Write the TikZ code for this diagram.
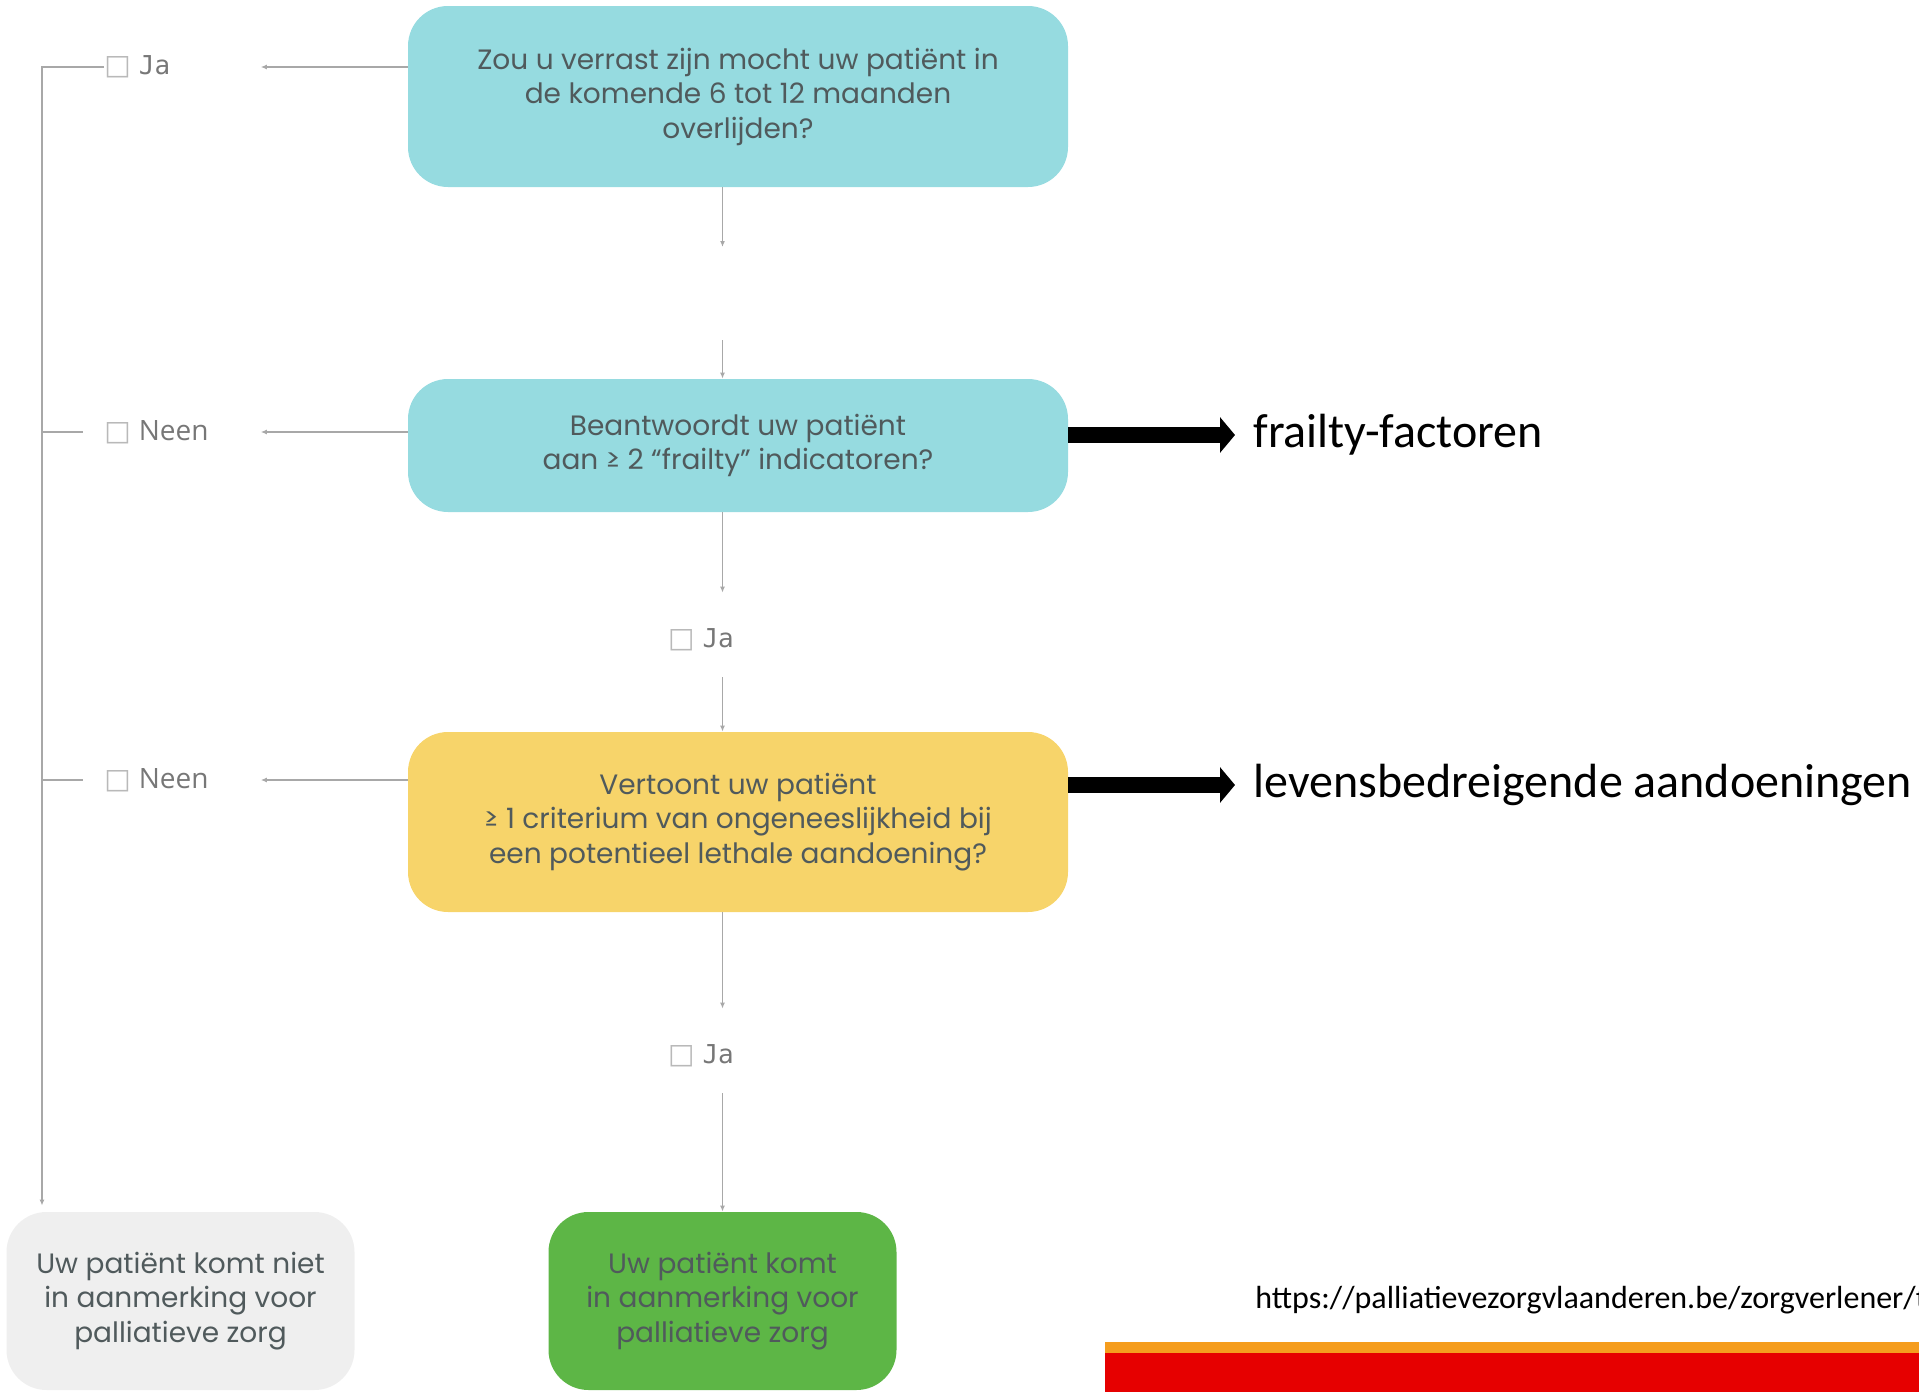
\documentclass[tikz,border=0pt]{standalone}
\usepackage{fontspec}
\setmainfont{Poppins}
\newfontfamily\slidefont{Carlito}
\newfontfamily\labelfont{Open Sans}
\newfontfamily\monofont{DejaVu Sans Mono}
\newfontfamily\symfont{DejaVu Sans}
\usetikzlibrary{positioning,arrows.meta,calc}
\definecolor{cTeal}{HTML}{96DBE0}
\definecolor{cYellow}{HTML}{F7D46A}
\definecolor{cGreen}{HTML}{5DB646}
\definecolor{cGrey}{HTML}{EFEFEF}
\definecolor{cText}{HTML}{505A5C}
\definecolor{cLabel}{HTML}{777777}
\definecolor{cLine}{HTML}{A8A8A8}
\definecolor{cOrange}{HTML}{F59D1E}
\definecolor{cRed}{HTML}{E60000}
\newcommand{\chk}{{\symfont\color{cLine!80}□}\hspace{4pt}}
\newcommand{\jaword}{{\monofont\fontsize{13}{16}\selectfont Ja}}

\begin{document}
\begin{tikzpicture}[
    x=0.5pt, y=-0.5pt,
    font=\fontsize{14}{17.25}\selectfont,
    qbox/.style={rounded corners=20pt, align=center, text=cText, minimum width=330pt, inner sep=0pt},
    endbox/.style={qbox, minimum width=174pt, minimum height=89pt},
    answer/.style={anchor=west, inner sep=0pt, text width=78pt, align=left, text=cLabel, font=\labelfont\fontsize{14}{16}\selectfont},
    midanswer/.style={inner xsep=0pt, inner ysep=15pt, text height=12pt, text depth=0pt, text=cLabel, font=\labelfont\fontsize{14}{16}\selectfont},
    side/.style={anchor=west, inner xsep=9pt, inner ysep=0pt, font=\slidefont\fontsize{24}{28}\selectfont},
    arr/.style={-{Latex[length=3pt,width=2.5pt]}, cLine, line width=0.6pt},
    line/.style={cLine, line width=0.6pt},
    bigarr/.style={-{Triangle[length=7.5pt,width=17.5pt]}, line width=8pt, black}
]
\useasboundingbox (0,0) rectangle (1919,1392);

% questions
\node[qbox, fill=cTeal, minimum height=90.5pt] (q1) at (738,96.5) {Zou u verrast zijn mocht uw patiënt in\\de komende 6 tot 12 maanden\\overlijden?};
\node[qbox, fill=cTeal, minimum height=66.5pt] (q2) at (738,445.5) {Beantwoordt uw patiënt\\aan ≥  2  “frailty” indicatoren?};
\node[qbox, fill=cYellow, minimum height=90pt] (q3) at (738,822) {Vertoont uw patiënt\\≥ 1 criterium van ongeneeslijkheid bij\\een potentieel lethale aandoening?};

% outcomes
\node[endbox, fill=cGrey] (nope) at (180.5,1301) {Uw patiënt komt niet\\in aanmerking voor\\palliatieve zorg};
\node[endbox, fill=cGreen] (yes) at (722.5,1301) {Uw patiënt komt\\in aanmerking voor\\palliatieve zorg};

% answers
\node[answer] (ja1) at (104,67) {\chk\jaword};
\node[answer] (neen1) at (104,432) {\chk Neen};
\node[answer] (neen2) at (104,780) {\chk Neen};
\node[midanswer] (ja2) at (701,635) {\chk\jaword};
\node[midanswer] (ja3) at (701,1051) {\chk\jaword};

\coordinate (gapA) at (722.5,247);
\coordinate (gapB) at (722.5,340);
\coordinate (spine) at (42,0);

\draw[arr] (q1.south -| gapA) -- (gapA);
\draw[arr] (gapB) -- (q2.north -| gapB);
\draw[arr] (q2.south -| yes.north) -- (ja2.north -| yes.north);
\draw[arr] (ja2.south -| yes.north) -- (q3.north -| yes.north);
\draw[arr] (q3.south -| yes.north) -- (ja3.north -| yes.north);
\draw[arr] (ja3.south -| yes.north) -- (yes.north);

\draw[arr] (ja1 -| q1.west) -- (ja1.east);
\draw[arr] (neen1 -| q2.west) -- (neen1.east);
\draw[arr] (neen2 -| q3.west) -- (neen2.east);
\draw[arr, shorten >=3pt] (ja1.west) -| (spine |- nope.north);
\draw[line] (spine |- neen1) -- ([xshift=-10.5pt]neen1.west);
\draw[line] (spine |- neen2) -- ([xshift=-10.5pt]neen2.west);

% notes on the slide
\node[side] (frail) at (1235,435) {frailty-factoren};
\node[side] (lethal) at (1235,785) {levensbedreigende aandoeningen};
\draw[bigarr] (q2.east |- frail) -- (frail.west);
\draw[bigarr] (q3.east |- lethal) -- (lethal.west);

\node[anchor=base west, inner sep=0pt, font=\slidefont\fontsize{16}{18}\selectfont] (url) at (1255,1308) {https://palliatievezorgvlaanderen.be/zorgverlener/t};
\fill[cOrange] (1105,1342) rectangle (1919,1353);
\fill[cRed] (1105,1353) rectangle (1919,1392);
\end{tikzpicture}
\end{document}
